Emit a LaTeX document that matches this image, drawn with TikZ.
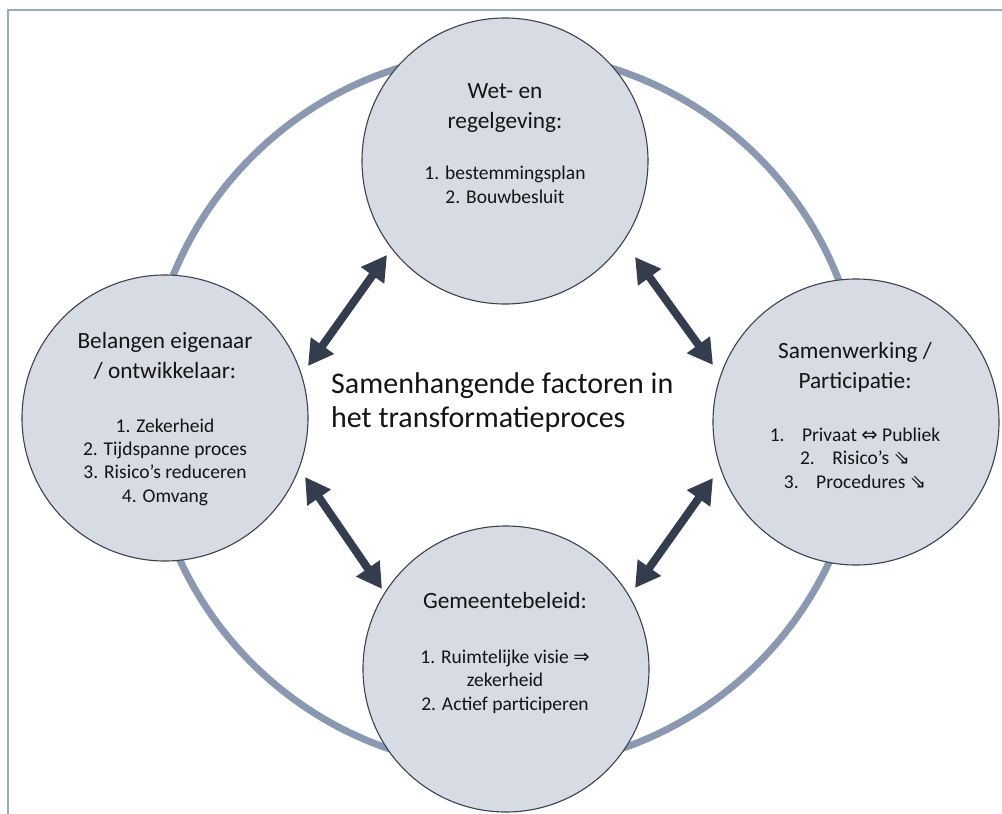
\documentclass[tikz,border=0pt]{standalone}
\usepackage{fontspec}
\setmainfont{Carlito}
\newfontfamily\symf{DejaVu Sans}
\usetikzlibrary{arrows.meta}
\definecolor{ringc}{RGB}{138,153,178}
\definecolor{bubfill}{RGB}{214,219,228}
\definecolor{bubline}{RGB}{60,66,80}
\definecolor{arrc}{RGB}{52,61,77}
\definecolor{framec}{RGB}{150,170,196}
\definecolor{txt}{RGB}{20,20,20}
\begin{document}
\begin{tikzpicture}[x=1pt,y=-1pt,
  bub/.style={circle, draw=bubline, fill=bubfill, line width=1.1pt, minimum size=286pt, inner sep=0pt},
  dbl/.style={arrc, line width=8pt, {Triangle[width=27pt,length=25pt]}-{Triangle[width=27pt,length=25pt]}},
  head/.style={anchor=base, align=center, inner sep=0pt, text=txt, font=\fontsize{23.3}{29.5}\selectfont},
  listtxt/.style={anchor=base, align=center, inner sep=0pt, text=txt, font=\fontsize{19.5}{23.3}\selectfont}]
\useasboundingbox (0,0) rectangle (1002,814);
\fill[white] (0,0) rectangle (1002,814);
\coordinate (fbl) at (8,814);
\coordinate (ftl) at (8,10);
\coordinate (ftr) at (1002,10);
\draw[framec, line width=2pt] (fbl) -- (ftl) -- (ftr);
\coordinate (ringc) at (505,410);
\draw[ringc, line width=7pt] (ringc) circle[radius=358pt];
\node[bub] (wet) at (505,161) {};
\node[bub] (bel) at (165,418) {};
\node[bub] (sam) at (856,422) {};
\node[bub] (gem) at (506,669) {};
\coordinate (a1a) at (308,366); \coordinate (a1b) at (387,255);
\coordinate (a2a) at (635,257); \coordinate (a2b) at (713,365);
\coordinate (a3a) at (305,477); \coordinate (a3b) at (382,589);
\coordinate (a4a) at (713,478); \coordinate (a4b) at (635,588);
\draw[dbl] (a1a) -- (a1b);
\draw[dbl] (a2a) -- (a2b);
\draw[dbl] (a3a) -- (a3b);
\draw[dbl] (a4a) -- (a4b);
\node[head] (weth) at (505,128) {Wet- en\\regelgeving:};
\node[listtxt] (wetl) at (505,203) {1. bestemmingsplan\\2. Bouwbesluit};
\node[head] (belh) at (165,378) {Belangen eigenaar\\/ ontwikkelaar:};
\node[listtxt] (bell) at (165,502) {1. Zekerheid\\2. Tijdspanne proces\\3. Risico’s reduceren\\4. Omvang};
\node[head] (samh) at (855,388) {Samenwerking /\\Participatie:};
\node[listtxt] (saml) at (855,488) {1.\hspace{0.9em}Privaat {\symf ⇔} Publiek\\2.\hspace{0.9em}Risico’s {\symf ⇘}\\3.\hspace{0.9em}Procedures {\symf ⇘}};
\node[head] (gemh) at (505,608) {Gemeentebeleid:};
\node[listtxt] (geml) at (505,710) {1. Ruimtelijke visie {\symf ⇒}\\zekerheid\\2. Actief participeren};
\node[anchor=base west, align=left, inner sep=0pt, text=txt, font=\fontsize{30}{34}\selectfont] (title) at (331,427) {Samenhangende factoren in\\het transformatieproces};
\end{tikzpicture}
\end{document}
